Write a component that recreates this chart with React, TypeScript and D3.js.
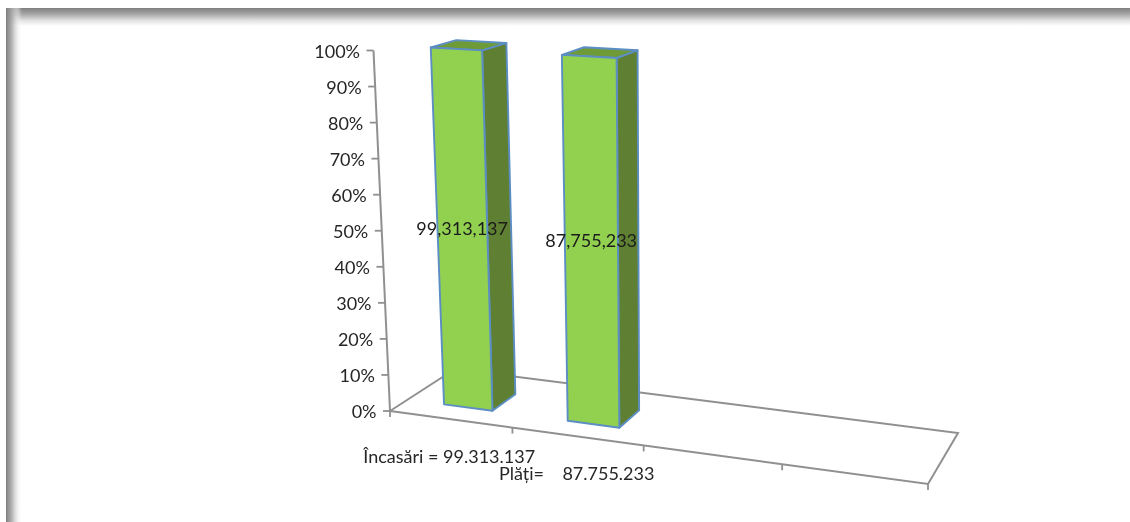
import React from "react";
import * as d3 from "d3";

const categories = ["Încasări = 99.313.137", "Plăți=    87.755.233", "", ""];
const values = [99313137, 87755233, null, null];
const yTicks = [0, 0.1, 0.2, 0.3, 0.4, 0.5, 0.6, 0.7, 0.8, 0.9, 1];

const W = 1130, H = 522;
// floor quad of the 3D plot: front-left, front-right, back-right, back-left
const FL: [number, number] = [390, 411];
const FR: [number, number] = [928, 484];
const BR: [number, number] = [958, 433];
const BL: [number, number] = [455, 369];
const vanishX = 665, lean = 0.06, baseHeight = 360.5;
const depthFront = 0.26, depthBack = 0.64;

function homography(p0: number[], p1: number[], p2: number[], p3: number[]) {
  const [x0, y0] = p0, [x1, y1] = p1, [x2, y2] = p2, [x3, y3] = p3;
  const dx1 = x1 - x2, dx2 = x3 - x2, sx = x0 - x1 + x2 - x3;
  const dy1 = y1 - y2, dy2 = y3 - y2, sy = y0 - y1 + y2 - y3;
  const det = dx1 * dy2 - dx2 * dy1;
  const g = (sx * dy2 - dx2 * sy) / det, h = (dx1 * sy - sx * dy1) / det;
  const a = x1 - x0 + g * x1, b = x3 - x0 + h * x3, c = x0;
  const d = y1 - y0 + g * y1, e = y3 - y0 + h * y3, f = y0;
  return (u: number, v: number): [number, number] => {
    const w = g * u + h * v + 1;
    return [(a * u + b * v + c) / w, (d * u + e * v + f) / w];
  };
}
const quad = homography(FL, FR, BR, BL);
const warp = d3.scalePow().exponent(1.02).domain([0, 1]).range([0, 1]);
const floor = (u: number, v: number) => quad(warp(u), v);
const xBand = d3.scaleBand<number>().domain(d3.range(categories.length)).range([0.003, 1.003]).paddingInner(0.6).paddingOuter(0.3);
const yScale = d3.scaleLinear().domain([0, 1]).range([0, 1]);

// project (category position, depth, value share) to the page
function project(u: number, depth: number, share: number): [number, number] {
  const [fx, fy] = floor(u, depth);
  const t = yScale(share);
  return [fx + (fx - vanishX) * lean * t, fy - (baseHeight + 0.55 * (fy - FL[1])) * t];
}
const line = d3.line();
const poly = (pts: [number, number][]) => line(pts)! + "Z";

const axisColor = "#909090";
const barStroke = "#5b8ec4";
const font = "Lato, 'Open Sans', sans-serif";
const fontSize = 18;

export default function App() {
  const stepTicks = d3.range(1, categories.length + 1).map((i) => i / categories.length);
  return (
    <svg width={W} height={H} viewBox={`0 0 ${W} ${H}`} style={{ position: "absolute", left: 0, top: 0, background: "#fff" }}>
      <defs>
        <linearGradient id="topShade" x1="0" y1="0" x2="0" y2="1">
          <stop offset="0" stopColor="#7f7f7f" />
          <stop offset="0.35" stopColor="#a8a8a8" />
          <stop offset="0.7" stopColor="#e2e2e2" />
          <stop offset="1" stopColor="#ffffff" />
        </linearGradient>
        <linearGradient id="leftShade" x1="0" y1="0" x2="1" y2="0">
          <stop offset="0" stopColor="#7f7f7f" />
          <stop offset="0.35" stopColor="#a8a8a8" stopOpacity="0.9" />
          <stop offset="0.7" stopColor="#e2e2e2" stopOpacity="0.6" />
          <stop offset="1" stopColor="#ffffff" stopOpacity="0" />
        </linearGradient>
        <filter id="soft" x="-5%" y="-5%" width="110%" height="110%">
          <feGaussianBlur stdDeviation="0.35" />
        </filter>
      </defs>
      <rect x={6} y={8} width={W - 6} height={18} fill="url(#topShade)" />
      <rect x={6} y={8} width={16} height={H - 8} fill="url(#leftShade)" />
      <g filter="url(#soft)">
        <path d={poly([FL, FR, BR, BL])} fill="none" stroke={axisColor} strokeWidth={2} />
        <path d={line([project(0, 0, 0), project(0, 0, 1)])!} fill="none" stroke={axisColor} strokeWidth={2} />
        {yTicks.map((t) => {
          const [x, y] = project(0, 0, t);
          return <line key={t} x1={x - 7} x2={x} y1={y} y2={y} stroke={axisColor} strokeWidth={1.8} />;
        })}
        {[0, ...stepTicks].map((u) => {
          const [x, y] = floor(u, 0);
          return <line key={u} x1={x} x2={x} y1={y} y2={y + 6} stroke={axisColor} strokeWidth={1.8} />;
        })}
        {values.map((v, i) => {
          if (v == null) return null;
          const share = 1; // each column fills its 100% stack
          const u0 = xBand(i)!, u1 = u0 + xBand.bandwidth();
          const fbl = project(u0, depthFront, 0), fbr = project(u1, depthFront, 0);
          const ftl = project(u0, depthFront, share), ftr = project(u1, depthFront, share);
          const bbr = project(u1, depthBack, 0), btr = project(u1, depthBack, share), btl = project(u0, depthBack, share);
          return (
            <g key={i} stroke={barStroke} strokeWidth={1.9} strokeLinejoin="round">
              <path d={poly([fbr, bbr, btr, ftr])} fill="#5e8030" />
              <path d={poly([ftl, ftr, btr, btl])} fill="#6e9b38" />
              <path d={poly([fbl, fbr, ftr, ftl])} fill="#92d050" />
            </g>
          );
        })}
        {yTicks.map((t) => {
          const [x, y] = project(0, 0, t);
          return (
            <text key={t} x={x - 13.5} y={y} textAnchor="end" dominantBaseline="central" fontFamily={font} fontSize={fontSize} fill="#262626">
              {d3.format(".0%")(t)}
            </text>
          );
        })}
        {categories.map((c, i) => {
          if (!c) return null;
          const [x, y] = floor(xBand(i)! + xBand.bandwidth() / 2, 0);
          return (
            <text key={i} x={x - 2} y={y + 36.5} textAnchor="middle" dominantBaseline="central" fontFamily={font} fontSize={fontSize} fill="#262626" style={{ whiteSpace: "pre" }}>
              {c}
            </text>
          );
        })}
        {values.map((v, i) => {
          if (v == null) return null;
          const u = xBand(i)! + xBand.bandwidth() / 2;
          const [x, y] = project(u, depthFront, 0.5);
          return (
            <text key={i} x={x} y={y} textAnchor="middle" dominantBaseline="central" fontFamily={font} fontSize={fontSize} fill="#1a1a1a">
              {d3.format(",")(v)}
            </text>
          );
        })}
      </g>
    </svg>
  );
}
